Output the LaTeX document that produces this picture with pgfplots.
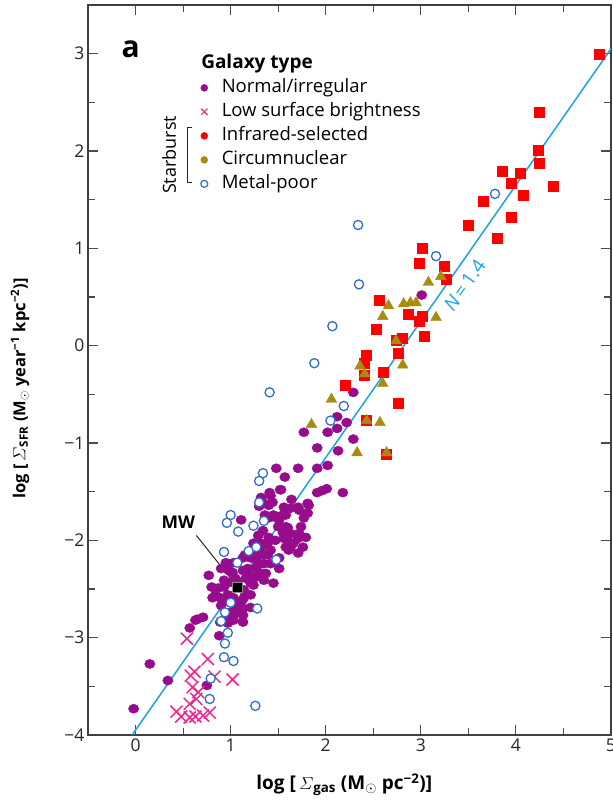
\documentclass[border=0pt]{standalone}
\usepackage{pgfplots}
\pgfplotsset{compat=1.18}
\usepackage[no-math]{fontspec}
\setmainfont{Open Sans}
\definecolor{cpurple}{RGB}{150,12,140}
\definecolor{cpink}{RGB}{236,40,140}
\definecolor{cred}{RGB}{255,0,0}
\definecolor{colive}{RGB}{168,140,15}
\definecolor{cblue}{RGB}{50,110,200}
\definecolor{ccyan}{RGB}{25,165,225}
\begin{document}
\begin{tikzpicture}[font=\fontsize{17}{20}\selectfont]
\begin{axis}[name=ax, scale only axis, width=523pt, height=730pt,
  xmin=-0.5, xmax=5, ymin=-4, ymax=3.5,
  xtick={0,1,2,3,4,5}, xticklabels={0,1,2,3,4,5},
  ytick={-4,-3,-2,-1,0,1,2,3}, yticklabels={−4,−3,−2,−1,0,1,2,3},
  minor tick num=1,
  tick align=inside, major tick length=10pt, minor tick length=7pt,
  axis line style={black!75, line width=1.1pt},
  every tick/.style={black!70, line width=1.1pt},
  ticklabel style={font=\fontsize{17.5}{20}\selectfont, text=black!85},
  xlabel={\textbf{log [\,$\mathnormal{\Sigma}$\textsubscript{gas} (M\textsubscript{$\odot$} pc\textsuperscript{−2})]}},
  ylabel={\textbf{log [\,$\mathnormal{\Sigma}$\textsubscript{SFR} (M\textsubscript{$\odot$} year\textsuperscript{−1} kpc\textsuperscript{−2})]}},
  xlabel style={at={(axis description cs:0.49,-0.068)}, anchor=center, font=\fontsize{19}{22}\selectfont},
  ylabel style={at={(axis description cs:-0.13,0.475)}, anchor=center, font=\fontsize{16.5}{19}\selectfont},
  legend style={at={(axis cs:0.684,2.738)}, anchor=north west, draw=none, fill=none,
    inner sep=0pt,
    font=\fontsize{18.5}{21}\selectfont, row sep=7pt,
    nodes={inner sep=0pt, text height=13pt, text depth=4pt},
    /tikz/every odd column/.append style={column sep=14pt}},
  legend cell align=left,
  clip=false,
]
% fit line
\addplot[ccyan, line width=1.5pt, forget plot] coordinates {(-0.036,-4) (5,3.05)};

% Normal / irregular
\addplot[only marks, mark=*, mark size=4.6pt, color=cpurple, mark options={xscale=1.12}, forget plot] table {
x y
-0.02 -3.73
0.15 -3.27
0.34 -3.44
0.57 -2.90
0.65 -2.81
0.71 -2.79
0.75 -3.49
0.88 -2.98
0.89 -2.84
0.97 -2.85
1.00 -2.74
1.05 -2.75
1.13 -2.77
1.07 -2.67
0.99 -2.61
0.89 -2.59
0.81 -2.59
0.87 -2.49
0.80 -2.48
0.77 -2.36
0.93 -2.48
0.94 -2.62
1.03 -2.59
1.14 -2.59
1.14 -2.51
1.07 -2.43
1.00 -2.43
1.21 -2.44
1.19 -2.36
1.18 -2.29
1.13 -2.31
1.02 -2.33
0.95 -2.23
1.03 -2.23
1.13 -2.18
1.15 -2.15
1.21 -2.18
1.28 -2.15
1.35 -2.15
1.42 -2.10
1.35 -2.24
1.26 -2.29
1.26 -2.38
1.24 -2.46
1.32 -2.34
1.37 -2.34
1.27 -2.20
1.23 -2.13
1.24 -2.03
1.32 -2.03
1.29 -1.95
1.34 -1.90
1.40 -1.97
1.47 -2.00
1.51 -2.18
1.42 -2.24
1.51 -2.29
1.11 -1.79
1.40 -1.77
1.45 -1.74
1.51 -1.79
1.55 -1.74
1.50 -1.86
1.55 -1.92
1.60 -1.87
1.63 -1.93
1.60 -2.00
1.63 -2.07
1.66 -2.03
1.71 -1.98
1.72 -1.93
1.74 -1.86
1.77 -1.77
1.81 -1.72
1.82 -1.64
1.72 -1.69
1.63 -1.67
1.56 -1.66
1.44 -1.61
1.76 -2.07
1.79 -1.97
1.71 -2.13
1.61 -2.10
0.90 -2.29
0.98 -2.31
1.05 -2.39
1.16 -2.39
1.35 -2.41
1.45 -2.44
0.90 -2.67
1.02 -2.65
1.12 -2.62
1.13 -2.70
1.21 -2.69
1.21 -2.56
0.97 -2.56
0.63 -2.82
1.03 -2.82
1.13 -2.84
0.98 -2.77
1.11 -2.75
0.84 -2.56
0.93 -2.41
1.32 -2.07
1.39 -2.03
1.39 -2.15
1.28 -2.26
1.58 -2.07
1.56 -1.98
1.58 -1.86
1.58 -1.74
1.46 -1.76
1.53 -1.48
1.42 -1.54
1.32 -1.56
1.32 -1.62
1.40 -1.64
1.36 -1.74
2.29 -0.48
2.12 -0.73
2.22 -0.79
2.12 -0.85
2.02 -0.89
1.77 -0.89
2.29 -0.96
1.91 -1.05
2.13 -1.08
1.48 -1.26
1.57 -1.35
1.71 -1.26
1.91 -1.26
2.02 -1.23
1.52 -1.48
1.91 -1.51
1.96 -1.49
2.01 -1.47
2.18 -1.51
1.81 -1.62
1.71 -1.66
1.64 -1.58
1.41 -1.51
1.35 -1.62
1.30 -1.65
1.47 -1.75
3.01 0.52
};

% Low surface brightness
\addplot[only marks, mark=x, mark size=8.5pt, color=cpink, mark options={line width=1.5pt}, forget plot] table {
x y
0.54 -3.01
0.76 -3.22
0.62 -3.35
0.58 -3.39
0.83 -3.40
1.02 -3.43
0.60 -3.51
0.66 -3.56
0.64 -3.63
0.57 -3.68
0.43 -3.76
0.48 -3.81
0.57 -3.82
0.63 -3.81
0.71 -3.80
0.78 -3.77
};

% Infrared-selected
\addplot[only marks, mark=square*, mark size=5pt, color=cred, forget plot] table {
x y
4.88 2.99
4.24 2.40
4.23 2.01
4.25 1.87
3.86 1.79
4.04 1.77
3.95 1.67
4.39 1.64
4.08 1.55
3.66 1.48
3.95 1.32
3.50 1.24
3.80 1.10
3.01 1.00
2.98 0.85
3.25 0.82
3.27 0.68
2.56 0.47
2.87 0.32
3.01 0.30
2.98 0.25
3.04 0.10
2.53 0.17
2.80 0.08
2.74 0.06
2.76 -0.08
2.43 -0.10
2.40 -0.18
2.40 -0.30
2.60 -0.27
2.21 -0.41
2.76 -0.59
2.43 -0.77
2.64 -1.11
};

% Circumnuclear
\addplot[only marks, mark=triangle*, mark size=6.2pt, color=colive, forget plot] table {
x y
3.21 0.71
3.08 0.65
2.66 0.41
2.82 0.43
2.89 0.44
2.95 0.44
2.60 0.30
3.16 0.29
2.74 0.05
2.81 -0.20
2.36 -0.21
2.41 -0.29
2.60 -0.39
2.06 -0.55
2.43 -0.77
2.57 -0.79
1.85 -0.81
2.33 -1.10
2.64 -1.10
};

% Metal-poor
\addplot[only marks, mark=*, mark size=4.6pt, color=cblue, mark options={fill=white, line width=1.3pt}, forget plot] table {
x y
3.78 1.56
2.34 1.24
3.16 0.92
2.35 0.63
2.07 0.20
1.88 -0.18
1.41 -0.48
2.19 -0.62
2.05 -0.77
1.34 -1.31
1.30 -1.39
1.30 -1.61
1.00 -1.74
0.96 -1.82
1.08 -1.91
1.35 -1.80
1.24 -1.85
0.93 -2.12
1.19 -2.11
1.07 -2.23
1.27 -2.07
1.48 -2.20
1.00 -2.64
0.94 -2.74
1.28 -2.70
0.90 -2.83
0.97 -2.95
0.94 -3.06
0.93 -3.20
1.03 -3.24
0.79 -3.42
0.78 -3.63
1.26 -3.70
};

% Milky Way
\addplot[only marks, mark=square*, mark size=5pt, mark options={fill=black, draw=black!45, line width=0.8pt}, forget plot] coordinates {(1.07,-2.48)};
\draw[black!85, line width=1pt] (axis cs:0.64,-1.95) -- (axis cs:1.04,-2.44);
\node[font=\fontsize{17.5}{20}\selectfont\bfseries] at (axis cs:0.45,-1.81) {MW};

% legend
\addlegendimage{only marks, mark=*, mark size=3.5pt, color=cpurple}
\addlegendentry{Normal/irregular}
\addlegendimage{only marks, mark=x, mark size=4.5pt, color=cpink, mark options={line width=1.2pt}}
\addlegendentry{Low surface brightness}
\addlegendimage{only marks, mark=*, mark size=3.5pt, color=cred}
\addlegendentry{Infrared-selected}
\addlegendimage{only marks, mark=*, mark size=3.5pt, color=colive}
\addlegendentry{Circumnuclear}
\addlegendimage{only marks, mark=o, mark size=3.5pt, color=cblue, mark options={line width=1.2pt}}
\addlegendentry{Metal-poor}

\node[anchor=base west, inner sep=0pt, font=\fontsize{19}{22}\selectfont\bfseries] at (axis cs:0.689,2.848) {Galaxy type};
\node[font=\fontsize{30}{32}\selectfont\bfseries] at (axis cs:-0.05,3.05) {a};
\node[rotate=90, font=\fontsize{18}{20}\selectfont] at (axis cs:0.352,1.959) {Starburst};
\draw[black!85, line width=0.9pt] (axis cs:0.594,2.237) -- (axis cs:0.542,2.237) -- (axis cs:0.542,1.672) -- (axis cs:0.594,1.672);
\node[rotate=55, text=ccyan, font=\fontsize{19}{22}\selectfont] at (axis cs:3.46,0.62) {\textit{N}\,=\,1.4};
\end{axis}
\pgfresetboundingbox
\path ([xshift=-88pt,yshift=-68pt]ax.south west) rectangle ([xshift=2pt,yshift=5pt]ax.north east);
\end{tikzpicture}
\end{document}
